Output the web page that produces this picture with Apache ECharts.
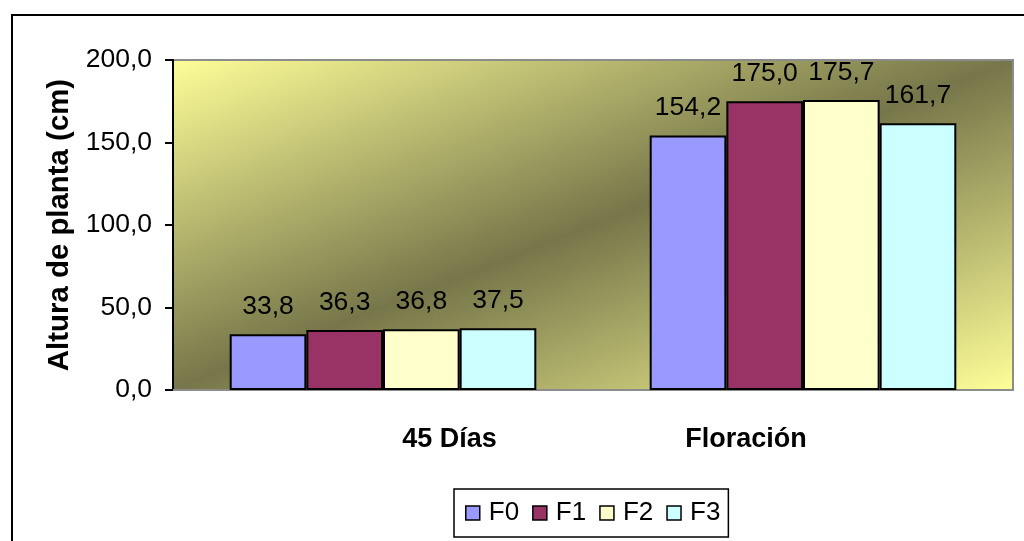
<!DOCTYPE html>
<html>
<head>
<meta charset="utf-8">
<script src="https://cdn.jsdelivr.net/npm/echarts@6/dist/echarts.min.js"></script>
<style>
  html, body { margin: 0; padding: 0; background: #ffffff; }
  #chart { width: 1024px; height: 541px; }
</style>
</head>
<body>
<div id="chart"></div>
<script>
// Plant height by treatment at two stages
const categories = ['45 Días', 'Floración'];
const seriesNames = ['F0', 'F1', 'F2', 'F3'];
const valuesF0 = [33.8, 154.2];
const valuesF1 = [36.3, 175.0];
const valuesF2 = [36.8, 175.7];
const valuesF3 = [37.5, 161.7];
const yTicks = [0, 50, 100, 150, 200];

const seriesValues = [valuesF0, valuesF1, valuesF2, valuesF3];
const seriesColors = ['#9999FF', '#993366', '#FFFFCC', '#CCFFFF'];

const FONT = '"Liberation Sans", Arial, sans-serif';
const fmt = v => Number(v).toFixed(1).replace('.', ',');

// plot rectangle
const gLeft = 173, gTop = 60, gRight = 1013, gBottom = 390;
const W = gRight - gLeft, H = gBottom - gTop;

// diagonal gradient whose bands run parallel to the plot's anti-diagonal
const k2 = H * H / (H * H + W * W), k1 = W * W / (H * H + W * W);
const plotFill = new echarts.graphic.LinearGradient(
  0.5 - k2, 0.5 - k1, 0.5 + k2, 0.5 + k1,
  [
    { offset: 0, color: '#FFFF99' },
    { offset: 0.5, color: '#76764A' },
    { offset: 1, color: '#FFFF99' }
  ]
);

const chart = echarts.init(document.getElementById('chart'), null, { renderer: 'canvas' });

chart.setOption({
  animation: false,
  backgroundColor: '#ffffff',
  textStyle: { fontFamily: FONT },
  graphic: [{
    type: 'rect',
    shape: { x: 12, y: 15, width: 1040, height: 560 },
    style: { fill: 'none', stroke: '#000', lineWidth: 2 },
    z: 100
  }],
  grid: {
    left: gLeft, top: gTop, width: W, height: H,
    show: true,
    backgroundColor: plotFill,
    borderColor: '#8c8c8c',
    borderWidth: 2
  },
  legend: {
    data: seriesNames,
    left: 454, top: 489,
    orient: 'horizontal',
    itemWidth: 14, itemHeight: 14, itemGap: 13,
    padding: [11, 8, 11, 11],
    borderColor: '#000', borderWidth: 1.5,
    icon: 'rect',
    itemStyle: { borderColor: '#000', borderWidth: 1.5 },
    textStyle: { fontSize: 26, color: '#000', fontFamily: FONT, padding: [0, 0, 0, 4] }
  },
  xAxis: {
    type: 'category',
    data: categories,
    axisLine: { show: true, lineStyle: { color: '#8c8c8c', width: 2 } },
    axisTick: { show: false },
    axisLabel: {
      interval: 0,
      margin: 36,
      formatter: (v, i) => (i === 0 ? '{a|' + v + '}' : '{b|' + v + '}'),
      rich: {
        a: { fontSize: 27, fontWeight: 'bold', color: '#000', fontFamily: FONT, padding: [0, 0, 0, 133] },
        b: { fontSize: 27, fontWeight: 'bold', color: '#000', fontFamily: FONT, padding: [0, 114, 0, 0] }
      }
    },
    splitLine: { show: false }
  },
  yAxis: {
    type: 'value',
    min: yTicks[0], max: yTicks[yTicks.length - 1], interval: yTicks[1] - yTicks[0],
    name: 'Altura de planta (cm)',
    nameLocation: 'middle',
    nameRotate: 90,
    nameGap: 95,
    nameTextStyle: { fontSize: 29.4, fontWeight: 'bold', color: '#000', fontFamily: FONT },
    axisLine: { show: true, lineStyle: { color: '#000', width: 2 } },
    axisTick: { show: true, inside: false, length: 8, lineStyle: { color: '#000', width: 2 } },
    axisLabel: { margin: 21, fontSize: 26.5, color: '#000', fontFamily: FONT, formatter: fmt },
    splitLine: { show: false }
  },
  series: seriesNames.map((name, i) => ({
    name: name,
    type: 'bar',
    data: seriesValues[i],
    barGap: '0%',
    barCategoryGap: '27%',
    itemStyle: { color: seriesColors[i], borderColor: '#000', borderWidth: 2 },
    label: {
      show: true,
      position: 'top',
      distance: 14,
      fontSize: 26.5,
      color: '#000',
      fontFamily: FONT,
      formatter: p => fmt(p.value)
    }
  }))
});
</script>
</body>
</html>
